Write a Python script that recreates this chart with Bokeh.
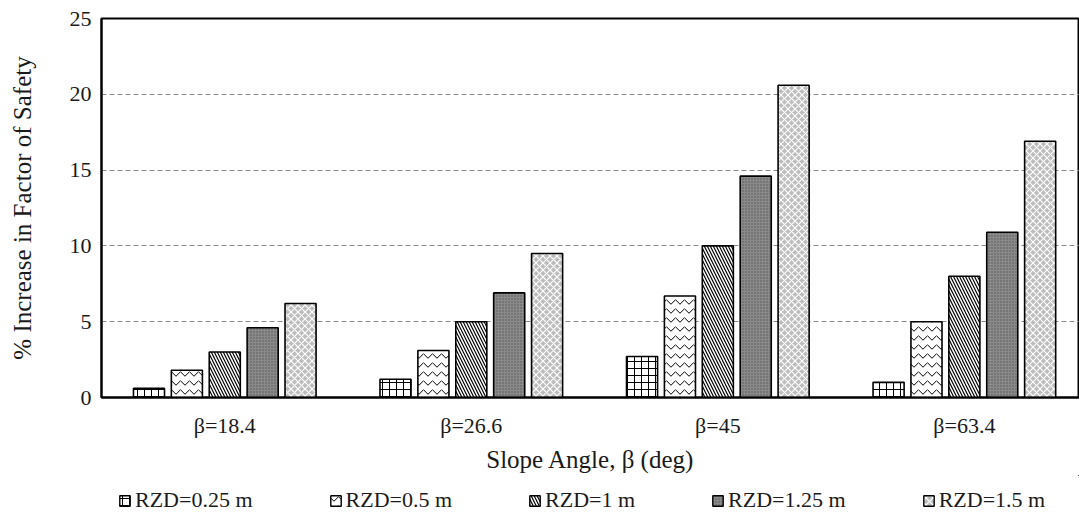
from bokeh.plotting import figure
from bokeh.layouts import column
from bokeh.models import (Range1d, FixedTicker, CustomJSTickFormatter,
                          Legend, LegendItem, ColumnDataSource)
from bokeh.embed import file_html
from bokeh.resources import INLINE

categories = ["β=18.4", "β=26.6", "β=45", "β=63.4"]
series_names = ["RZD=0.25 m", "RZD=0.5 m", "RZD=1 m", "RZD=1.25 m", "RZD=1.5 m"]
rzd_025 = [0.6, 1.2, 2.7, 1.0]
rzd_05 = [1.8, 3.1, 6.7, 5.0]
rzd_1 = [3.0, 5.0, 10.0, 8.0]
rzd_125 = [4.6, 6.9, 14.6, 10.9]
rzd_15 = [6.2, 9.5, 20.6, 16.9]
y_ticks = [0, 5, 10, 15, 20, 25]

series = [rzd_025, rzd_05, rzd_1, rzd_125, rzd_15]

FONT = "Liberation Serif"
W = 1079
LEG_H = 40

p = figure(width=W, height=515 - LEG_H, output_backend="svg", toolbar_location=None,
           x_range=Range1d(0, 3.967), y_range=Range1d(0, 25),
           min_border_left=101, min_border_right=0, min_border_top=18,
           min_border_bottom=515 - LEG_H - 398,
           background_fill_color="white", border_fill_color="white")

p.outline_line_color = "black"
p.outline_line_width = 2

styles = [
    dict(fill_color="white", hatch_pattern="cross", hatch_color="black", hatch_scale=7, hatch_weight=1),
    dict(fill_color="white", hatch_pattern="horizontal_wave", hatch_color="black", hatch_scale=9, hatch_weight=1),
    dict(fill_color="white", hatch_pattern="left_diagonal_line", hatch_color="black", hatch_scale=6, hatch_weight=1.2),
    dict(fill_color="#8a8a8a", hatch_pattern="dot", hatch_color="#555555", hatch_scale=3, hatch_weight=1),
    dict(fill_color="#bdbdbd", hatch_pattern="diagonal_cross", hatch_color="white", hatch_scale=7, hatch_weight=1.2),
]

step = 0.1537
bar_w = 0.126
sources = []
for j, (name, vals) in enumerate(zip(series_names, series)):
    xs = [i + 0.5 + (j - 2) * step for i in range(len(categories))]
    src = ColumnDataSource(dict(x=xs, top=vals))
    sources.append(src)
    p.vbar(x="x", top="top", bottom=0, width=bar_w, source=src,
           line_color="black", line_width=1.6, **styles[j])

# axes
p.xaxis.ticker = FixedTicker(ticks=[i + 0.5 for i in range(len(categories))])
p.xaxis.formatter = CustomJSTickFormatter(args=dict(labels=categories),
                                          code="return labels[Math.floor(tick)];")
p.xaxis.major_label_standoff = 15
p.xaxis.axis_label = "Slope Angle, β (deg)"
p.xaxis.axis_label_standoff = 5

p.yaxis.ticker = FixedTicker(ticks=y_ticks)
p.yaxis.major_label_standoff = 10
p.yaxis.axis_label = "% Increase in Factor of Safety"
p.yaxis.axis_label_standoff = 31

for ax in (p.xaxis, p.yaxis):
    ax.major_tick_line_color = None
    ax.minor_tick_line_color = None
    ax.major_tick_out = 0
    ax.major_tick_in = 0
    ax.minor_tick_out = 0
    ax.minor_tick_in = 0
    ax.axis_line_width = 2
    ax.axis_line_color = "black"
    ax.major_label_text_font = FONT
    ax.major_label_text_font_size = "22px"
    ax.major_label_text_color = "#1a1a1a"
    ax.axis_label_text_font = FONT
    ax.axis_label_text_font_size = "25px"
    ax.axis_label_text_font_style = "normal"
    ax.axis_label_text_color = "#1a1a1a"

p.xgrid.grid_line_color = None
p.ygrid.grid_line_color = "#888888"
p.ygrid.grid_line_dash = "5 3"
p.ygrid.grid_line_width = 1.2

# legend strip (separate figure so the legend sits below the axis title);
# its renderers reuse the series sources but lie outside the strip's view.
pl = figure(width=W, height=LEG_H, output_backend="svg", toolbar_location=None,
            x_range=Range1d(-3, -2), y_range=Range1d(-3, -2),
            x_axis_location=None, y_axis_location=None,
            min_border_left=0, min_border_right=0, min_border_top=0, min_border_bottom=0,
            background_fill_color="white", border_fill_color="white")
pl.outline_line_color = None
pl.grid.grid_line_color = None
items = []
for j, name in enumerate(series_names):
    r = pl.vbar(x="x", top="top", bottom=0, width=bar_w, source=sources[j],
                line_color="black", line_width=1.4, **styles[j])
    items.append(LegendItem(label=name, renderers=[r]))

legend = Legend(items=items, orientation="horizontal", location=(17, 2),
                glyph_width=13, glyph_height=13, label_standoff=4, spacing=76,
                label_text_font=FONT, label_text_font_size="22px", label_text_color="#1a1a1a",
                border_line_color=None, background_fill_alpha=0, padding=0, margin=0)
pl.add_layout(legend, "center")

layout = column(p, pl, spacing=0)
open("out.html", "w").write(file_html(layout, INLINE))
